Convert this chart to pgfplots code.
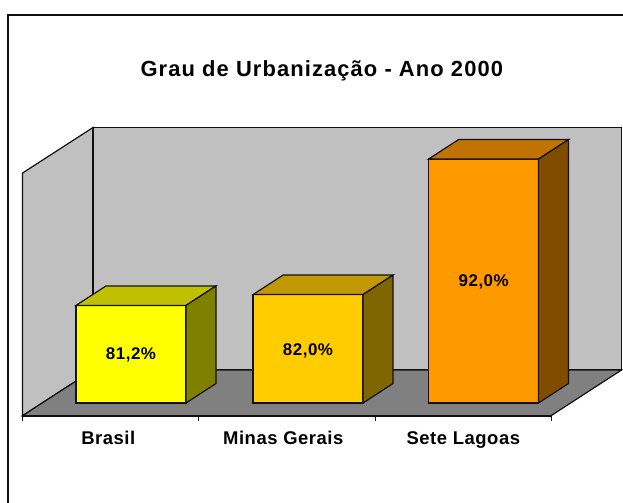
\documentclass[border=0pt]{standalone}
\usepackage{fontspec}
\setmainfont{Liberation Sans}
\newfontfamily\lbl[LetterSpace=3]{Liberation Sans}
\newfontfamily\ttl[LetterSpace=5]{Liberation Sans}
\usepackage{pgfplots}
\pgfplotsset{compat=1.18}
\definecolor{wall}{HTML}{C0C0C0}
\definecolor{floorc}{HTML}{808080}
\definecolor{edge}{HTML}{111111}
\tikzset{
  val/.style={font=\lbl\bfseries\fontsize{17}{20}\selectfont, text=black, anchor=base},
  cat/.style={font=\lbl\bfseries\fontsize{18.5}{22}\selectfont, text=black, anchor=base},
  ttlab/.style={font=\ttl\bfseries\fontsize{22}{26}\selectfont, text=black, anchor=base}
}
\begin{document}
\begin{tikzpicture}
\useasboundingbox (0,0) rectangle (623bp,503bp);
\begin{axis}[
  at={(0,0)}, anchor=south west,
  scale only axis,
  width=623bp, height=503bp,
  xmin=0, xmax=623,
  ymin=66.62, ymax=103.742,
  hide axis,
  clip=true
]
% chart frame
\addplot[edge, line width=1.4bp] coordinates {(8,66) (8,102.63) (624,102.63)};
% walls and floor
\addplot[draw=edge, fill=wall, line width=1.2bp] coordinates {(22.5,73.06) (22.5,90.97) (93,94.33) (93,76.435)} -- cycle;
\addplot[draw=edge, fill=wall, line width=1.2bp] coordinates {(93,76.435) (93,94.33) (621.5,94.33) (621.5,76.435)} -- cycle;
\addplot[draw=edge, fill=floorc, line width=1.2bp] coordinates {(22.5,73.06) (93,76.435) (621.5,76.435) (551,73.06)} -- cycle;
\addplot[edge, line width=1.6bp] coordinates {(22.5,73.06) (551,73.06)};
% ticks
\addplot[edge, line width=0.8bp] coordinates {(22.5,73.06) (22.5,72.67)};
\addplot[edge, line width=0.8bp] coordinates {(198.7,73.06) (198.7,72.67)};
\addplot[edge, line width=0.8bp] coordinates {(375.3,73.06) (375.3,72.67)};
\addplot[edge, line width=0.8bp] coordinates {(551,73.06) (551,72.67)};
% Brasil 81.2
\addplot[draw=edge, fill={rgb,255:red,255;green,255;blue,0}, line width=1.2bp] coordinates {(76,74) (76,81.2) (186,81.2) (186,74)} -- cycle;
\addplot[draw=edge, fill={rgb,255:red,192;green,192;blue,0}, line width=1.2bp] coordinates {(76,81.2) (106,82.64) (216,82.64) (186,81.2)} -- cycle;
\addplot[draw=edge, fill={rgb,255:red,128;green,128;blue,0}, line width=1.2bp] coordinates {(186,74) (186,81.2) (216,82.64) (216,75.44)} -- cycle;
% Minas Gerais 82.0
\addplot[draw=edge, fill={rgb,255:red,255;green,204;blue,0}, line width=1.2bp] coordinates {(253,74) (253,82) (363,82) (363,74)} -- cycle;
\addplot[draw=edge, fill={rgb,255:red,192;green,153;blue,0}, line width=1.2bp] coordinates {(253,82) (283,83.44) (393,83.44) (363,82)} -- cycle;
\addplot[draw=edge, fill={rgb,255:red,128;green,102;blue,0}, line width=1.2bp] coordinates {(363,74) (363,82) (393,83.44) (393,75.44)} -- cycle;
% Sete Lagoas 92.0
\addplot[draw=edge, fill={rgb,255:red,255;green,153;blue,0}, line width=1.2bp] coordinates {(428.5,74) (428.5,92) (538.5,92) (538.5,74)} -- cycle;
\addplot[draw=edge, fill={rgb,255:red,192;green,115;blue,0}, line width=1.2bp] coordinates {(428.5,92) (458.5,93.44) (568.5,93.44) (538.5,92)} -- cycle;
\addplot[draw=edge, fill={rgb,255:red,128;green,77;blue,0}, line width=1.2bp] coordinates {(538.5,74) (538.5,92) (568.5,93.44) (568.5,75.44)} -- cycle;
% value labels
\node[val] at (axis cs:131,77.21) {81,2\%};
\node[val] at (axis cs:308,77.52) {82,0\%};
\node[val] at (axis cs:483.7,82.58) {92,0\%};
% category labels
\node[cat] at (axis cs:108.3,70.97) {Brasil};
\node[cat] at (axis cs:283.3,70.97) {Minas Gerais};
\node[cat] at (axis cs:463.3,70.97) {Sete Lagoas};
% title
\node[ttlab] at (axis cs:321.8,98.13) {Grau de Urbanização - Ano 2000};
\end{axis}
\end{tikzpicture}
\end{document}
